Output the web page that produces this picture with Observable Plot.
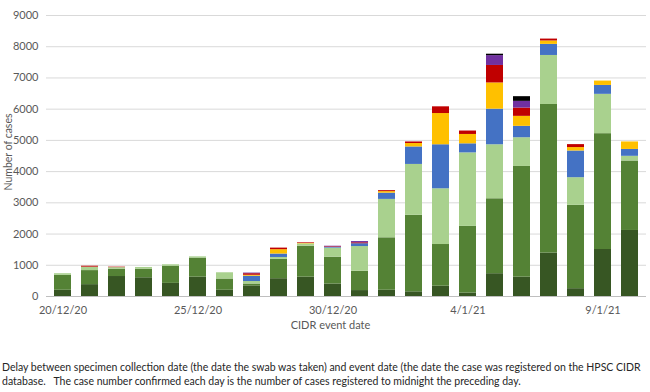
<!DOCTYPE html>
<html>
<head>
<meta charset="utf-8">
<script src="https://cdn.jsdelivr.net/npm/d3@7"></script>
<script src="https://cdn.jsdelivr.net/npm/@observablehq/plot@0.6"></script>
<style>
  html, body { margin: 0; padding: 0; background: #fff; }
  #chart { width: 650px; }
  .caption { font-family: Lato, "Open Sans", sans-serif; font-size: 10.5px; line-height: 14px; color: #262626; margin: 20px 0 0 2px; white-space: nowrap; }
</style>
</head>
<body>
<div id="chart"></div>
<div class="caption">Delay between specimen collection date (the date the swab was taken) and event date (the date the case was registered on the HPSC CIDR<br>database.&nbsp;&nbsp; The case number confirmed each day is the number of cases registered to midnight the preceding day.</div>
<script>
const dates = ["20/12/20","21/12/20","22/12/20","23/12/20","24/12/20","25/12/20","26/12/20","27/12/20","28/12/20","29/12/20","30/12/20","31/12/20","1/1/21","2/1/21","3/1/21","4/1/21","5/1/21","6/1/21","7/1/21","8/1/21","9/1/21","10/1/21"];
const shownTicks = ["20/12/20","25/12/20","30/12/20","4/1/21","9/1/21"];
const seriesNames = ["Same day","1 day","2 days","3 days","4 days","5 days","6 days","7+ days"];
const seriesColors = ["#375623","#548235","#a9d18e","#4472c4","#ffc000","#c00000","#7030a0","#000000"];

const delay0 = [200,380,640,600,420,620,200,340,570,620,400,190,200,150,330,110,730,620,1390,250,1505,2115];
const delay1 = [480,450,235,275,550,610,360,60,620,990,860,620,1680,2450,1335,2135,2400,3545,4760,2670,3710,2225];
const delay2 = [50,110,50,55,45,40,200,80,60,75,290,790,1230,1630,1785,2355,1730,920,1570,885,1260,150];
const delay3 = [0,0,0,0,0,0,0,170,110,0,20,90,200,560,1410,290,1140,365,355,855,285,220];
const delay4 = [0,0,0,0,0,0,0,30,140,15,0,0,50,110,1000,300,840,320,110,110,140,240];
const delay5 = [0,30,15,0,0,0,0,50,50,20,20,30,30,50,215,110,560,265,60,95,0,0];
const delay6 = [0,0,0,0,0,0,0,20,0,0,20,40,0,0,0,0,315,215,0,0,0,0];
const delay7 = [0,0,0,0,0,0,0,0,0,0,0,0,0,0,0,0,45,150,0,0,0,0];
const yTicks = [0,1000,2000,3000,4000,5000,6000,7000,8000,9000];

const allSeries = [delay0,delay1,delay2,delay3,delay4,delay5,delay6,delay7];
const table = allSeries.flatMap((vals, s) => vals.map((v, i) => ({date: dates[i], series: seriesNames[s], value: v})));

const chart = Plot.plot({
  width: 650,
  height: 340,
  marginLeft: 46,
  marginRight: 4,
  marginTop: 15,
  marginBottom: 44,
  style: {fontFamily: "Lato, 'Open Sans', sans-serif", fontSize: "11px", color: "#595959", background: "#fff"},
  x: {type: "band", domain: dates, paddingInner: 0.36, paddingOuter: 0.18, align: 0.5, label: null, tickSize: 0, tickPadding: 10, tickFormat: d => shownTicks.includes(d) ? d : ""},
  y: {domain: [0, 9000], ticks: yTicks, tickSize: 0, tickPadding: 8, tickFormat: d => String(d), label: null},
  color: {domain: seriesNames, range: seriesColors},
  marks: [
    Plot.ruleY(yTicks.filter(d => d > 0), {stroke: "#d9d9d9", strokeWidth: 1}),
    Plot.barY(table, {x: "date", y: "value", fill: "series"}),
    Plot.ruleY([0], {stroke: "#bfbfbf", strokeWidth: 1}),
    Plot.text(["CIDR event date"], {frameAnchor: "bottom", textAnchor: "middle", dx: -16, dy: 32, fill: "#595959", fontSize: 11}),
    Plot.text(["Number of cases"], {frameAnchor: "left", textAnchor: "middle", dx: -38, dy: -4, rotate: -90, fill: "#595959", fontSize: 10.5})
  ]
});
document.getElementById("chart").appendChild(chart);
</script>
</body>
</html>
